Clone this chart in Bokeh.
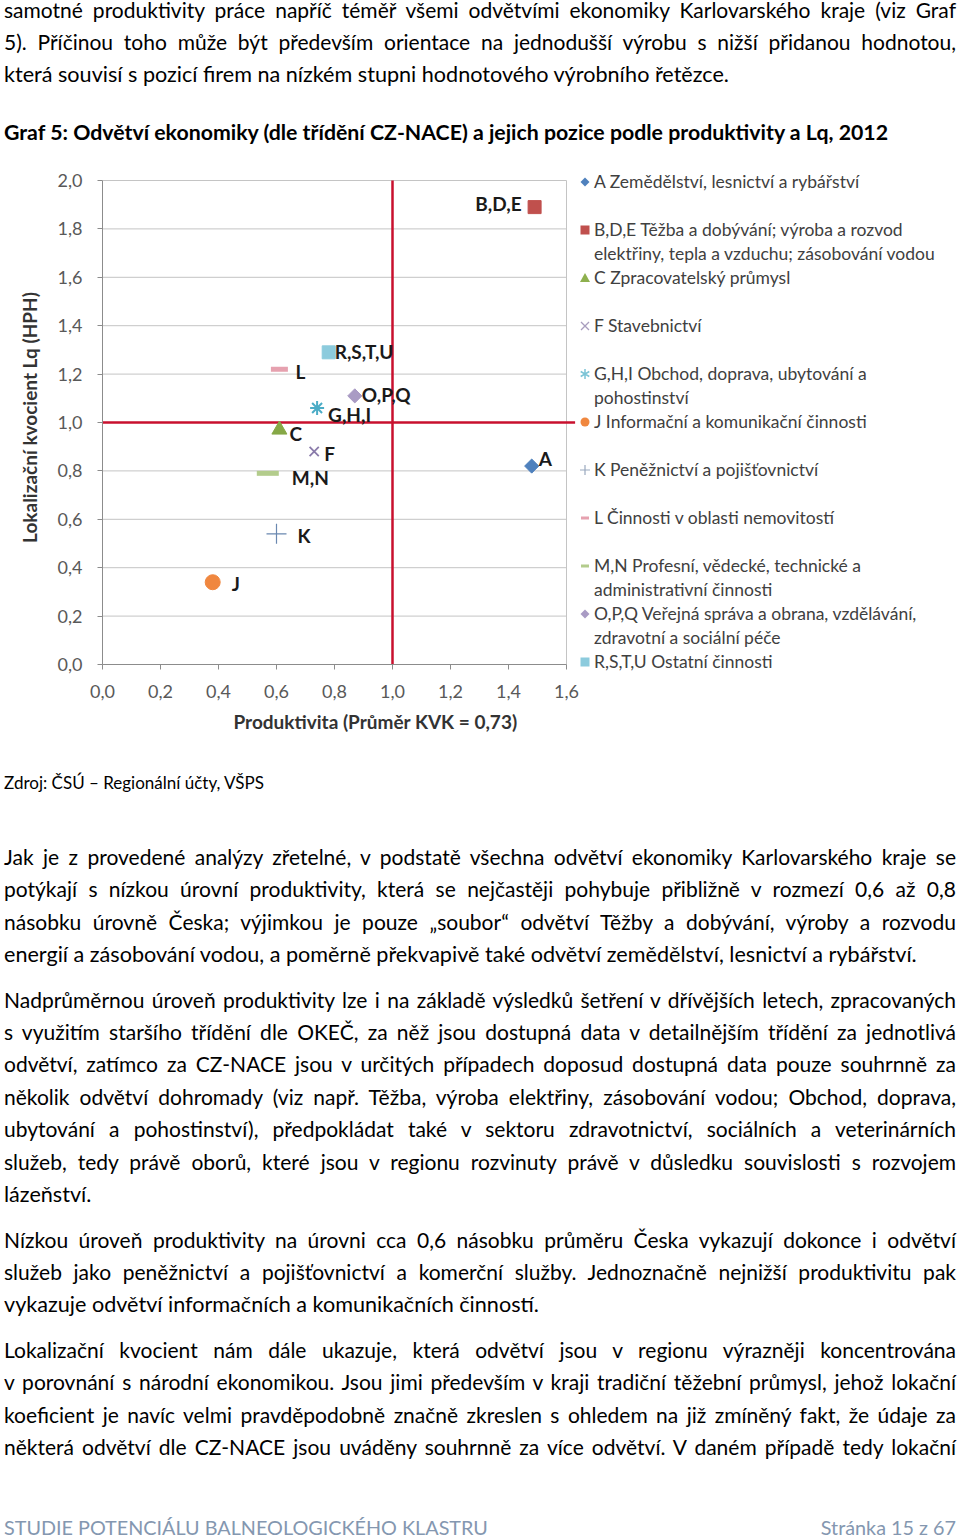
from bokeh.plotting import figure
from bokeh.models import Div, Range1d, FixedTicker, CustomJSTickFormatter, ColumnDataSource, Title
from bokeh.layouts import column, row
from bokeh.embed import file_html
from bokeh.resources import INLINE
from bokeh.core.properties import value

FONT = "Lato"

# ---------------- data ----------------
codes = ["A", "B,D,E", "C", "F", "G,H,I", "J", "K", "L", "M,N", "O,P,Q", "R,S,T,U"]
sector_names = [
    "A Zemědělství, lesnictví a rybářství",
    "B,D,E Těžba a dobývání; výroba a rozvod\nelektřiny, tepla a vzduchu; zásobování vodou",
    "C Zpracovatelský průmysl",
    "F Stavebnictví",
    "G,H,I Obchod, doprava, ubytování a\npohostinství",
    "J Informační a komunikační činnosti",
    "K Peněžnictví a pojišťovnictví",
    "L Činnosti v oblasti nemovitostí",
    "M,N Profesní, vědecké, technické a\nadministrativní činnosti",
    "O,P,Q Veřejná správa a obrana, vzdělávání,\nzdravotní a sociální péče",
    "R,S,T,U Ostatní činnosti",
]
productivity = [1.48, 1.49, 0.61, 0.73, 0.74, 0.38, 0.60, 0.61, 0.57, 0.87, 0.78]
lq = [0.82, 1.89, 0.97, 0.88, 1.06, 0.34, 0.54, 1.22, 0.79, 1.11, 1.29]
x_ticks = [0.0, 0.2, 0.4, 0.6, 0.8, 1.0, 1.2, 1.4, 1.6]
y_ticks = [0.0, 0.2, 0.4, 0.6, 0.8, 1.0, 1.2, 1.4, 1.6, 1.8, 2.0]
ref_productivity = 1.0
ref_lq = 1.0

# ---------------- styles ----------------
mstyle = {
    "A":       dict(marker="square", angle=0.785398, color="#4F81BD", size=10, lw=1, lcolor="#4F81BD", dx=7, dy=-8, align="left"),
    "B,D,E":   dict(marker="square", angle=0, color="#C0504D", size=13, lw=1, lcolor="#C0504D", dx=-13, dy=-4, align="right"),
    "C":       dict(marker="triangle", angle=0, color="#86A846", size=15, lw=1, lcolor="#8EB04E", dx=10, dy=4, align="left"),
    "F":       dict(marker="x", angle=0, color="#8A7BAA", size=13, lw=1.8, lcolor="#A89DBE", dx=10, dy=2, align="left"),
    "G,H,I":   dict(marker="asterisk", angle=0, color="#4BACC6", size=14, lw=2, lcolor="#7CC4D6", dx=11, dy=7, align="left"),
    "J":       dict(marker="circle", angle=0, color="#F0873F", size=15, lw=1, lcolor="#F0873F", dx=19, dy=1, align="left"),
    "K":       dict(marker="cross", angle=0, color="#6A88B0", size=20, lw=1.2, lcolor="#9AA9BF", dx=21, dy=2, align="left"),
    "L":       dict(marker="dash", angle=0, color="#E6A1AF", size=17, lw=5, lcolor="#E6A1AF", dx=16, dy=2, align="left"),
    "M,N":     dict(marker="dash", angle=0, color="#B3CC8C", size=22, lw=5, lcolor="#B3CC8C", dx=24, dy=4, align="left"),
    "O,P,Q":   dict(marker="square", angle=0.785398, color="#A99BC4", size=10, lw=1, lcolor="#A99BC4", dx=7, dy=-1, align="left"),
    "R,S,T,U": dict(marker="square", angle=0, color="#8CCBDD", size=13, lw=1, lcolor="#8CCBDD", dx=6, dy=-1, align="left"),
}

# ---------------- chart figure ----------------
p = figure(width=580, height=595, x_range=Range1d(0, 473 / 290), y_range=Range1d(0, 2.0 + 10 / 242),
           output_backend="svg", toolbar_location=None,
           min_border_left=102, min_border_right=5, min_border_top=20, min_border_bottom=81)
p.outline_line_color = None
p.xgrid.visible = False
p.ygrid.visible = False

fmt = CustomJSTickFormatter(code="return tick.toFixed(1).replace('.', ',');")
for ax, ticks in ((p.xaxis, x_ticks), (p.yaxis, y_ticks)):
    ax.ticker = FixedTicker(ticks=ticks)
    ax.formatter = fmt
    ax.bounds = (ticks[0], ticks[-1])
    ax.axis_line_color = "#8c8c8c"
    ax.major_tick_line_color = "#8c8c8c"
    ax.major_tick_out = 5
    ax.major_tick_in = 0
    ax.minor_tick_line_color = None
    ax.major_label_text_font = FONT
    ax.major_label_text_font_size = "18px"
    ax.major_label_text_color = "#595959"
p.xaxis.major_label_standoff = 15
p.yaxis.major_label_standoff = 15
p.yaxis.axis_label = "Lokalizační kvocient Lq (HPH)"
p.yaxis.axis_label_text_font = FONT
p.yaxis.axis_label_text_font_style = "bold"
p.yaxis.axis_label_text_font_size = "19px"
p.yaxis.axis_label_text_color = "#333333"
p.yaxis.axis_label_standoff = 14

p.add_layout(Title(text="Produktivita (Průměr KVK = 0,73)", align="left", offset=131, standoff=15,
                   text_font=FONT, text_font_style="bold", text_font_size="19px",
                   text_color="#333333"), "below")

# horizontal gridlines and right border of plot area
p.segment(x0=x_ticks[0], x1=x_ticks[-1], y0=y_ticks, y1=y_ticks, line_color="#c4c4c4", line_width=1)
p.segment(x0=[x_ticks[-1]], x1=[x_ticks[-1]], y0=[y_ticks[0]], y1=[y_ticks[-1]], line_color="#c4c4c4", line_width=1)

# reference lines (Czech average = 1)
p.segment(x0=[0], x1=[1.63], y0=[ref_lq], y1=[ref_lq], line_color="#C8102E", line_width=2.5)
p.segment(x0=[ref_productivity], x1=[ref_productivity], y0=[y_ticks[0]], y1=[y_ticks[-1]],
          line_color="#C8102E", line_width=2.5)

# points
for i, c in enumerate(codes):
    s = mstyle[c]
    p.scatter(x=[productivity[i]], y=[lq[i]], marker=s["marker"], angle=s["angle"], size=s["size"],
              fill_color=s["color"], line_color=s["color"], line_width=s["lw"])

# data labels
left = [i for i, c in enumerate(codes) if mstyle[c]["align"] == "left"]
right = [i for i, c in enumerate(codes) if mstyle[c]["align"] == "right"]
for idx, al in ((left, "left"), (right, "right")):
    src = ColumnDataSource(dict(x=[productivity[i] for i in idx], y=[lq[i] for i in idx],
                                t=[codes[i] for i in idx],
                                dx=[mstyle[codes[i]]["dx"] for i in idx],
                                dy=[mstyle[codes[i]]["dy"] for i in idx]))
    p.text(x="x", y="y", text="t", x_offset="dx", y_offset="dy", source=src, text_align=al,
           text_baseline="middle", text_font=value(FONT), text_font_style="bold",
           text_font_size="19px", text_color="#1a1a1a")

# ---------------- legend (HTML + inline SVG markers) ----------------
def svg_marker(kind, angle, color, cx, cy):
    if kind == "square" and angle:
        return f'<polygon points="{cx},{cy-4.5} {cx+4.5},{cy} {cx},{cy+4.5} {cx-4.5},{cy}" fill="{color}"/>'
    if kind == "square":
        return f'<rect x="{cx-4.5}" y="{cy-4.5}" width="9" height="9" fill="{color}"/>'
    if kind == "triangle":
        return f'<polygon points="{cx},{cy-5} {cx+5},{cy+4} {cx-5},{cy+4}" fill="{color}"/>'
    if kind == "x":
        return (f'<path d="M{cx-4},{cy-4}L{cx+4},{cy+4}M{cx-4},{cy+4}L{cx+4},{cy-4}" '
                f'stroke="{color}" stroke-width="1.3"/>')
    if kind == "asterisk":
        return (f'<path d="M{cx},{cy-5}L{cx},{cy+5}M{cx-4.3},{cy-2.5}L{cx+4.3},{cy+2.5}'
                f'M{cx-4.3},{cy+2.5}L{cx+4.3},{cy-2.5}" stroke="{color}" stroke-width="1.5"/>')
    if kind == "circle":
        return f'<circle cx="{cx}" cy="{cy}" r="4.5" fill="{color}"/>'
    if kind == "cross":
        return (f'<path d="M{cx-5},{cy}L{cx+5},{cy}M{cx},{cy-5}L{cx},{cy+5}" '
                f'stroke="{color}" stroke-width="1.2"/>')
    if kind == "dash":
        return f'<rect x="{cx-4}" y="{cy-1.5}" width="8" height="3" fill="{color}"/>'
    return ""

L_LEFT, L_TOP = 580, 150          # page position of the legend block
lx, ltx, ly0, lstep, lline = 585, 594, 182, 48, 23.5
svg_parts, txt_parts = [], []
for i, c in enumerate(codes):
    s = mstyle[c]
    yy = ly0 + lstep * i - L_TOP
    svg_parts.append(svg_marker(s["marker"], s["angle"], s["lcolor"], lx - L_LEFT, yy))
    lines = sector_names[i].split("\n")
    txt_parts.append(f'<div style="position:absolute;left:{ltx - L_LEFT}px;top:{yy - lline / 2}px;'
                     f'line-height:{lline}px;white-space:nowrap;">' + "<br>".join(lines) + '</div>')
legend_html = (f'<div style="position:relative;width:380px;height:595px;font-family:\'{FONT}\';'
               f'font-size:17.5px;color:#404040;">'
               '<svg width="380" height="595" style="position:absolute;left:0;top:0;">'
               + "".join(svg_parts) + '</svg>' + "".join(txt_parts) + '</div>')
d_leg = Div(text=legend_html, width=380, height=595, margin=(0, 0, 0, 0))

# ---------------- page text ----------------
def ln(t, last=False):
    if last:
        return f'<div style="white-space:nowrap;text-align:left;font-size:21.6px;">{t}</div>'
    return f'<div style="white-space:nowrap;text-align:justify;text-align-last:justify;">{t}</div>'

BODY = f"font-family:'{FONT}';font-size:21px;color:#000;line-height:32.4px;"

top_lines = [
    "samotné produktivity práce napříč téměř všemi odvětvími ekonomiky Karlovarského kraje (viz Graf",
    "5). Příčinou toho může být především orientace na jednodušší výrobu s nižší přidanou hodnotou,",
    "která souvisí s pozicí firem na nízkém stupni hodnotového výrobního řetězce.",
]
title = "Graf 5: Odvětví ekonomiky (dle třídění CZ-NACE) a jejich pozice podle produktivity a Lq, 2012"

top_html = (f'<div style="{BODY}width:952px;margin:-6px 0 0 4px;line-height:32.2px;">'
            + "".join(ln(t, k == len(top_lines) - 1) for k, t in enumerate(top_lines))
            + f'<div style="margin-top:25px;font-weight:bold;white-space:nowrap;font-size:21.3px;">{title}</div></div>')

paras = [
    ["Jak je z provedené analýzy zřetelné, v podstatě všechna odvětví ekonomiky Karlovarského kraje se",
     "potýkají s nízkou úrovní produktivity, která se nejčastěji pohybuje přibližně v rozmezí 0,6 až 0,8",
     "násobku úrovně Česka; výjimkou je pouze „soubor“ odvětví Těžby a dobývání, výroby a rozvodu",
     "energií a zásobování vodou, a poměrně překvapivě také odvětví zemědělství, lesnictví a rybářství."],
    ["Nadprůměrnou úroveň produktivity lze i na základě výsledků šetření v dřívějších letech, zpracovaných",
     "s využitím staršího třídění dle OKEČ, za něž jsou dostupná data v detailnějším třídění za jednotlivá",
     "odvětví, zatímco za CZ-NACE jsou v určitých případech doposud dostupná data pouze souhrnně za",
     "několik odvětví dohromady (viz např. Těžba, výroba elektřiny, zásobování vodou; Obchod, doprava,",
     "ubytování a pohostinství), předpokládat také v sektoru zdravotnictví, sociálních a veterinárních",
     "služeb, tedy právě oborů, které jsou v regionu rozvinuty právě v důsledku souvislosti s rozvojem",
     "lázeňství."],
    ["Nízkou úroveň produktivity na úrovni cca 0,6 násobku průměru Česka vykazují dokonce i odvětví",
     "služeb jako peněžnictví a pojišťovnictví a komerční služby. Jednoznačně nejnižší produktivitu pak",
     "vykazuje odvětví informačních a komunikačních činností."],
    ["Lokalizační kvocient nám dále ukazuje, která odvětví jsou v regionu výrazněji koncentrována",
     "v porovnání s národní ekonomikou. Jsou jimi především v kraji tradiční těžební průmysl, jehož lokační",
     "koeficient je navíc velmi pravděpodobně značně zkreslen s ohledem na již zmíněný fakt, že údaje za",
     "některá odvětví dle CZ-NACE jsou uváděny souhrnně za více odvětví. V daném případě tedy lokační"],
]
para_last = [True, True, True, False]

body = f'<div style="{BODY}width:952px;margin:0 0 0 4px;">'
body += '<div style="margin-top:28px;line-height:20px;font-size:17px;">Zdroj: ČSÚ – Regionální účty, VŠPS</div>'
for k, pl in enumerate(paras):
    mt = 47.8 if k == 0 else 13.2
    body += f'<div style="margin-top:{mt}px;">'
    body += "".join(ln(t, para_last[k] and j == len(pl) - 1) for j, t in enumerate(pl))
    body += '</div>'
body += ('<div style="margin-top:53.6px;line-height:20px;font-size:19.8px;color:#8497B0;'
         'display:flex;justify-content:space-between;">'
         '<span>STUDIE POTENCIÁLU BALNEOLOGICKÉHO KLASTRU</span><span>Stránka 15 z 67</span></div>')
body += '</div>'

d_top = Div(text=top_html, width=960, height=150, margin=(0, 0, 0, 0))
d_body = Div(text=body, width=960, height=792, margin=(0, 0, 0, 0))
p.margin = (0, 0, 0, 0)

layout = column(d_top, row(p, d_leg, spacing=0, margin=(0, 0, 0, 0)), d_body,
                spacing=0, margin=(0, 0, 0, 0))
open("out.html", "w").write(file_html(layout, INLINE))
